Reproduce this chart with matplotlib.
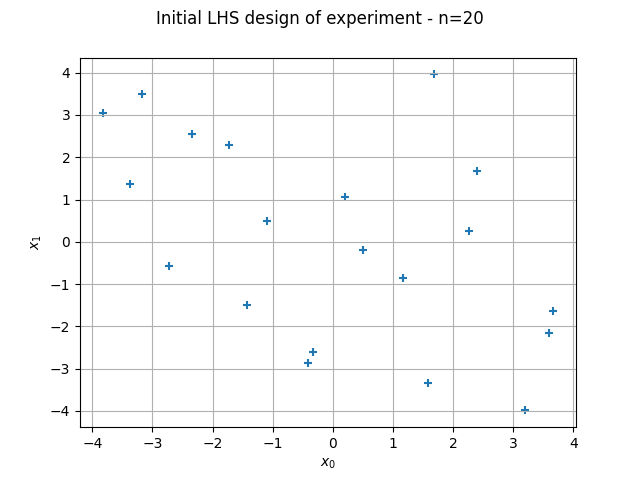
import matplotlib
matplotlib.use('Agg')
import matplotlib.pyplot as plt
import numpy as np

# LHS design points
x0 = [-3.83, -3.17, -3.37, -2.35, -2.72, -1.72, -1.10, -1.42, -0.33, -0.42,
      0.20, 0.50, 1.17, 1.68, 1.58, 2.40, 2.27, 3.20, 3.60, 3.67]
x1 = [3.04, 3.49, 1.37, 2.55, -0.57, 2.29, 0.50, -1.49, -2.62, -2.88,
      1.06, -0.19, -0.85, 3.96, -3.35, 1.67, 0.26, -3.99, -2.17, -1.63]

fig, ax = plt.subplots(figsize=(6.4, 4.8), dpi=100)
ax.scatter(x0, x1, marker='+', s=40, linewidths=1.5, color='C0')
ax.set_xlabel('$x_0$')
ax.set_ylabel('$x_1$')
ax.grid(True)
fig.suptitle('Initial LHS design of experiment - n=20')

fig.savefig('out.png', dpi=100)
